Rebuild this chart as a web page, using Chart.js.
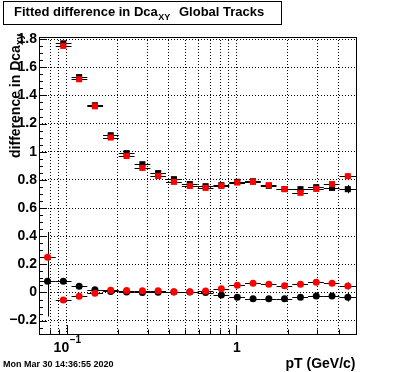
<!DOCTYPE html>
<html>
<head>
<meta charset="utf-8">
<script src="https://cdn.jsdelivr.net/npm/chart.js@4.4.1/dist/chart.umd.min.js"></script>
<style>
  html, body { margin: 0; padding: 0; background: #fff; }
  #wrap { width: 396px; height: 372px; }
</style>
</head>
<body>
<div id="wrap"><canvas id="dcaChart" width="396" height="372"></canvas></div>
<script>
// pT bins (GeV/c), log spaced
const ptCenters = [0.0771, 0.0955, 0.1184, 0.1467, 0.1817, 0.2254, 0.2792, 0.3457, 0.4282, 0.5313,
                   0.658, 0.815, 1.011, 1.252, 1.551, 1.92, 2.383, 2.951, 3.656, 4.529];
const ptEdges = [0.069, 0.0862, 0.1068, 0.1323, 0.1638, 0.2028, 0.2512, 0.311, 0.385, 0.477, 0.591,
                 0.732, 0.907, 1.123, 1.391, 1.722, 2.132, 2.64, 3.268, 4.046, 5.06];

// upper set (squares)
const blackSquares = [null, 1.77, 1.53, 1.33, 1.117, 0.99, 0.911, 0.848, 0.805, 0.770, 0.755,
                      0.762, 0.786, 0.79, 0.758, 0.735, 0.734, 0.748, 0.743, 0.734];
const blackSquaresErr = [0, 0.008, 0.008, 0.008, 0.008, 0.008, 0.008, 0.008, 0.008, 0.008, 0.008,
                         0.008, 0.008, 0.008, 0.008, 0.01, 0.01, 0.012, 0.015, 0.03];
const redSquares = [null, 1.752, 1.515, 1.323, 1.101, 0.970, 0.885, 0.828, 0.786, 0.757, 0.743,
                    0.757, 0.781, 0.786, 0.762, 0.734, 0.708, 0.736, 0.770, 0.826];
const redSquaresErr = [0, 0.008, 0.008, 0.008, 0.008, 0.008, 0.008, 0.008, 0.008, 0.008, 0.008,
                       0.008, 0.008, 0.008, 0.008, 0.01, 0.01, 0.012, 0.015, 0.022];

// lower set (circles)
const blackCircles = [0.079, 0.079, 0.045, 0.02, 0.007, 0.004, 0.0, 0.001, 0.004, 0.003,
                      -0.001, -0.018, -0.034, -0.044, -0.044, -0.044, -0.034, -0.025, -0.025, -0.034];
const blackCirclesErr = [0.25, 0.012, 0.01, 0.008, 0.008, 0.008, 0.008, 0.008, 0.008, 0.008,
                         0.008, 0.008, 0.008, 0.008, 0.008, 0.01, 0.01, 0.012, 0.015, 0.03];
const redCircles = [0.25, -0.053, -0.027, -0.005, 0.016, 0.014, 0.013, 0.013, 0.006, 0.006,
                    0.011, 0.027, 0.051, 0.065, 0.058, 0.048, 0.058, 0.072, 0.065, 0.046];
const redCirclesErr = [0.18, 0.012, 0.01, 0.008, 0.008, 0.008, 0.008, 0.008, 0.008, 0.008,
                       0.008, 0.008, 0.008, 0.008, 0.008, 0.01, 0.01, 0.012, 0.015, 0.025];

// axes
const xGridValues = [0.08, 0.09, 0.1, 0.2, 0.3, 0.4, 0.5, 0.6, 0.7, 0.8, 0.9, 1, 2, 3, 4];
const xMajorValues = [0.1, 1];
const xTickLabels = [['10', '\u22121'], ['1', '']];
const yTickValues = [-0.2, 0, 0.2, 0.4, 0.6, 0.8, 1, 1.2, 1.4, 1.6, 1.8];
const yTickLabels = ['\u22120.2', '0', '0.2', '0.4', '0.6', '0.8', '1', '1.2', '1.4', '1.6', '1.8'];

const FONT = '"Liberation Sans", Arial, Helvetica, sans-serif';

function toPoints(values) {
  return ptCenters.map((x, i) => ({ x: x, y: values[i] }));
}

function makeSet(values, errors, color, style, radius) {
  return {
    data: toPoints(values),
    values: values,
    errors: errors,
    pointStyle: style,
    pointRadius: radius,
    pointHoverRadius: radius,
    backgroundColor: color,
    borderWidth: 0,
    showLine: false
  };
}

/* error bars: bin width horizontally, error vertically, always black */
const errorBars = {
  id: 'errorBars',
  beforeDatasetDraw(chart, args) {
    const ds = chart.data.datasets[args.index];
    const { ctx, chartArea: a, scales: { x, y } } = chart;
    ctx.save();
    ctx.beginPath();
    ctx.rect(a.left, a.top, a.right - a.left, a.bottom - a.top);
    ctx.clip();
    ctx.strokeStyle = '#000';
    ctx.lineWidth = 1;
    ctx.beginPath();
    ds.values.forEach((v, i) => {
      if (v === null) return;
      const py = Math.round(y.getPixelForValue(v)) + 0.5;
      ctx.moveTo(x.getPixelForValue(ptEdges[i]), py);
      ctx.lineTo(x.getPixelForValue(ptEdges[i + 1]), py);
      const px = Math.round(x.getPixelForValue(ptCenters[i])) + 0.5;
      ctx.moveTo(px, y.getPixelForValue(v + ds.errors[i]));
      ctx.lineTo(px, y.getPixelForValue(v - ds.errors[i]));
    });
    ctx.stroke();
    ctx.restore();
  }
};

/* ROOT style frame, inner ticks, titles */
const rootFrame = {
  id: 'rootFrame',
  afterDraw(chart) {
    const { ctx, chartArea: a, scales: { x, y } } = chart;
    ctx.save();
    ctx.strokeStyle = '#000';
    ctx.fillStyle = '#000';
    ctx.lineWidth = 1;
    ctx.strokeRect(a.left + 0.5, a.top + 0.5, a.right - a.left, a.bottom - a.top);

    // y ticks, minor every 0.05
    ctx.beginPath();
    for (let k = -5; k <= 36; k++) {
      const py = Math.round(y.getPixelForValue(k * 0.05)) + 0.5;
      const len = k % 4 === 0 ? 8 : 4;
      ctx.moveTo(a.left, py);
      ctx.lineTo(a.left + len, py);
    }
    // x ticks
    xGridValues.forEach(v => {
      const px = Math.round(x.getPixelForValue(v)) + 0.5;
      const len = xMajorValues.includes(v) ? 9 : 4.5;
      ctx.moveTo(px, a.bottom);
      ctx.lineTo(px, a.bottom - len);
    });
    ctx.stroke();

    // x tick labels
    ctx.textBaseline = 'alphabetic';
    xMajorValues.forEach((v, i) => {
      const px = x.getPixelForValue(v);
      const [main, sup] = xTickLabels[i];
      ctx.font = 'bold 14px ' + FONT;
      const wMain = ctx.measureText(main).width;
      if (sup) {
        ctx.textAlign = 'right';
        ctx.fillText(main, px + 2.5, 352);
        ctx.font = 'bold 10px ' + FONT;
        ctx.textAlign = 'left';
        ctx.fillText(sup, px + 3, 343);
      } else {
        ctx.textAlign = 'center';
        ctx.fillText(main, px + 0.5, 352);
      }
    });

    // x title
    ctx.font = 'bold 14px ' + FONT;
    ctx.textAlign = 'right';
    ctx.fillText('pT (GeV/c)', 355.5, 368);

    // y title, rotated, ends near the top of the axis
    ctx.save();
    ctx.translate(20, 34);
    ctx.rotate(-Math.PI / 2);
    ctx.textAlign = 'left';
    ctx.font = 'bold 14px ' + FONT;
    const yMain = 'difference in Dca';
    const wY = ctx.measureText(yMain).width;
    ctx.font = 'bold 10px ' + FONT;
    const wYs = ctx.measureText('xy').width;
    ctx.font = 'bold 14px ' + FONT;
    ctx.fillText(yMain, -(wY + wYs), 0);
    ctx.font = 'bold 10px ' + FONT;
    ctx.fillText('xy', -wYs, 3);
    ctx.restore();

    // title box
    ctx.fillStyle = '#fff';
    ctx.fillRect(3.5, 1.5, 278, 23);
    ctx.strokeRect(3.5, 1.5, 278, 23);
    ctx.fillStyle = '#000';
    ctx.textAlign = 'left';
    ctx.font = 'bold 13px ' + FONT;
    const t1 = 'Fitted difference in Dca';
    ctx.fillText(t1, 14, 16);
    let tx = 14 + ctx.measureText(t1).width;
    ctx.font = 'bold 9px ' + FONT;
    ctx.fillText('XY', tx + 0.5, 20);
    ctx.font = 'bold 13px ' + FONT;
    ctx.fillText('Global Tracks', 179, 16);

    // timestamp
    ctx.font = 'bold 9px ' + FONT;
    ctx.fillText('Mon Mar 30 14:36:55 2020', 3, 367);
    ctx.restore();
  }
};

const ctx = document.getElementById('dcaChart');

new Chart(ctx, {
  type: 'scatter',
  data: {
    datasets: [
      makeSet(redSquares, redSquaresErr, '#ff0000', 'rect', 4.3),
      makeSet(blackSquares, blackSquaresErr, '#000000', 'rect', 4.3),
      makeSet(redCircles, redCirclesErr, '#ff0000', 'circle', 3.5),
      makeSet(blackCircles, blackCirclesErr, '#000000', 'circle', 3.5)
    ]
  },
  options: {
    responsive: false,
    animation: false,
    events: [],
    layout: { padding: { top: 37, right: 40, left: 0, bottom: 0 } },
    plugins: {
      legend: { display: false },
      tooltip: { enabled: false }
    },
    scales: {
      x: {
        type: 'logarithmic',
        bounds: 'data',
        min: 0.0687,
        max: 5.06,
        afterBuildTicks: s => { s.ticks = xGridValues.map(v => ({ value: v })); },
        afterFit: s => { s.height = 38; },
        ticks: { display: false, autoSkip: false },
        grid: { color: '#000', lineWidth: 1, drawTicks: false },
        border: { display: false, dash: [1, 2] }
      },
      y: {
        type: 'linear',
        bounds: 'data',
        min: -0.295,
        max: 1.815,
        afterBuildTicks: s => { s.ticks = yTickValues.map(v => ({ value: v })); },
        afterFit: s => { s.width = 39; },
        ticks: {
          autoSkip: false,
          padding: 2,
          color: '#000',
          font: { family: FONT, size: 14, weight: 'bold' },
          callback: (value, index) => yTickLabels[index]
        },
        grid: { color: '#000', lineWidth: 1, drawTicks: false },
        border: { display: false, dash: [1, 2] }
      }
    }
  },
  plugins: [errorBars, rootFrame]
});
</script>
</body>
</html>
